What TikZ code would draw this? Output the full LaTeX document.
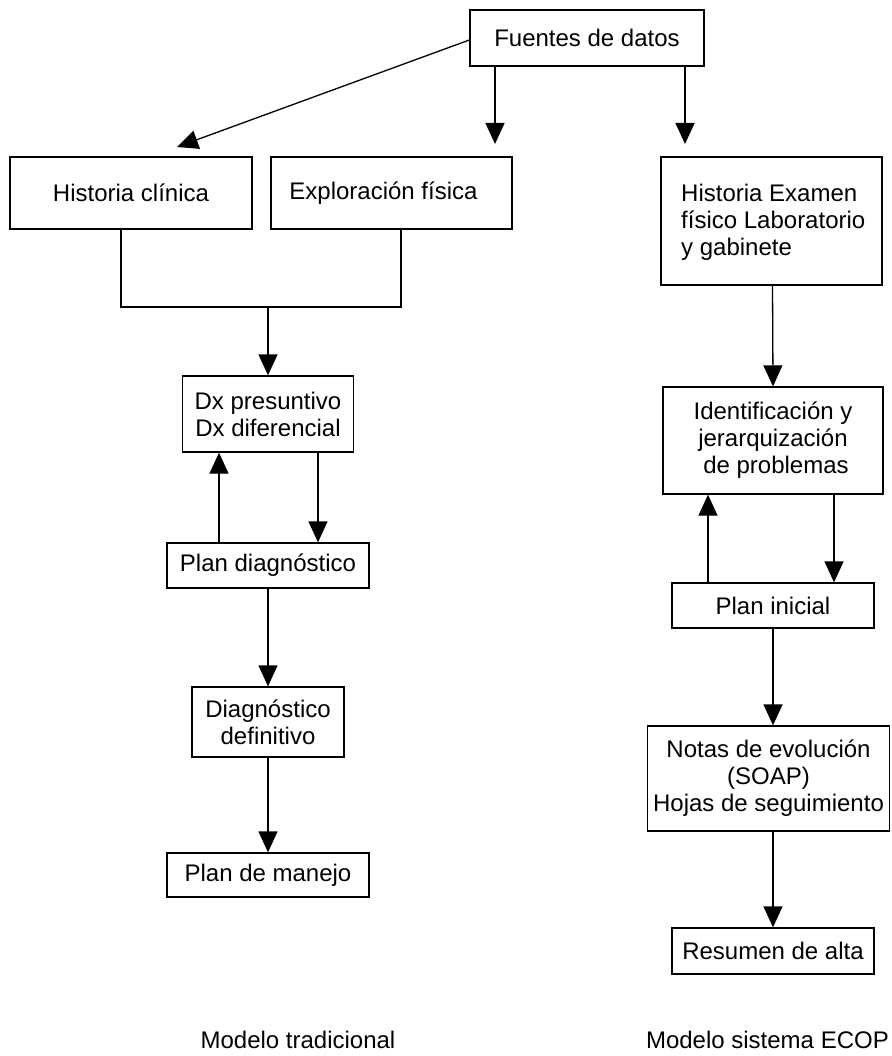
\documentclass[tikz,border=0pt]{standalone}
\usepackage{fontspec}
\setmainfont{Liberation Sans}
\usetikzlibrary{arrows.meta,calc}
\begin{document}
\begin{tikzpicture}[x=1pt,y=-1pt,
  box/.style={draw, line width=1.3pt, rectangle, inner sep=0pt, align=center,
    font=\fontsize{24}{27}\selectfont},
  lbl/.style={inner sep=0pt, font=\fontsize{24}{27}\selectfont},
  conn/.style={line width=1.3pt},
  arr/.style={line width=1.3pt, -{Triangle[length=21pt,width=19pt]}}]
\useasboundingbox (0,0) rectangle (891,1056);
% left column
\node[box, minimum width=234pt, minimum height=56pt] (F) at (587,38) {Fuentes de datos};
\node[box, minimum width=242pt, minimum height=72pt] (HC) at (131,193) {Historia clínica};
\node[box, minimum width=241pt, minimum height=72pt] (EF) at (391.5,193) {\hspace*{-16pt}Exploración física};
\node[box, minimum width=171pt, minimum height=76pt] (Dx) at (268,414) {Dx presuntivo\\Dx diferencial};
\node[box, minimum width=202pt, minimum height=45pt] (PD) at (268,565.5) {Plan diagnóstico};
\node[box, minimum width=152pt, minimum height=70pt] (DD) at (268,722) {Diagnóstico\\definitivo};
\node[box, minimum width=202pt, minimum height=44pt] (PM) at (268,875) {Plan de manejo};
% right column
\node[box, minimum width=221pt, minimum height=128pt] (HE) at (771.5,221) {};
\node[lbl, anchor=north west, align=left] (HEt) at (681,184) {Historia Examen\\físico Laboratorio\\y gabinete};
\node[box, minimum width=220pt, minimum height=107pt] (ID) at (773,440.5) {Identificación y\\jerarquización\\\hspace*{6pt}de problemas};
\node[box, minimum width=202pt, minimum height=45pt] (PI) at (773,605.5) {Plan inicial};
\node[box, minimum width=242pt, minimum height=105pt] (NE) at (768.5,778.5) {Notas de evolución\\(SOAP)\\Hojas de seguimiento};
\node[box, minimum width=202pt, minimum height=46pt] (RA) at (773,951) {Resumen de alta};
% captions
\node[lbl, anchor=base] (L1) at (298,1048) {Modelo tradicional};
\node[lbl, anchor=base east] (L2) at (889,1048) {Modelo sistema ECOP};
% free ends
\coordinate (c1) at (177,147);
\coordinate (c2) at (495,144);
\coordinate (c3) at (685,144);
\coordinate (bl) at (121,307);
\coordinate (br) at (401,307);
\coordinate (bm) at (268,307);
% connectors
\draw[arr] (F.west |- 0,40) -- (c1);
\draw[arr] (F.south -| c2) -- (c2);
\draw[arr] (F.south -| c3) -- (c3);
\draw[conn] (HC.south -| bl) -- (bl) -- (br) -- (EF.south -| br);
\draw[arr] (bm) -- (Dx.north);
\draw[arr] ([xshift=-49pt]PD.north) -- ([xshift=-49pt]Dx.south);
\draw[arr] ([xshift=50pt]Dx.south) -- ([xshift=50pt]PD.north);
\draw[arr] (PD.south) -- (DD.north);
\draw[arr] (DD.south) -- (PM.north);
\draw[arr] ([xshift=1pt]HE.south) -- (ID.north);
\draw[arr] ([xshift=-65pt]PI.north) -- ([xshift=-65pt]ID.south);
\draw[arr] ([xshift=61pt]ID.south) -- ([xshift=61pt]PI.north);
\draw[arr] (PI.south) -- (NE.north -| PI.south);
\draw[arr] (NE.south -| RA.north) -- (RA.north);
\end{tikzpicture}
\end{document}
